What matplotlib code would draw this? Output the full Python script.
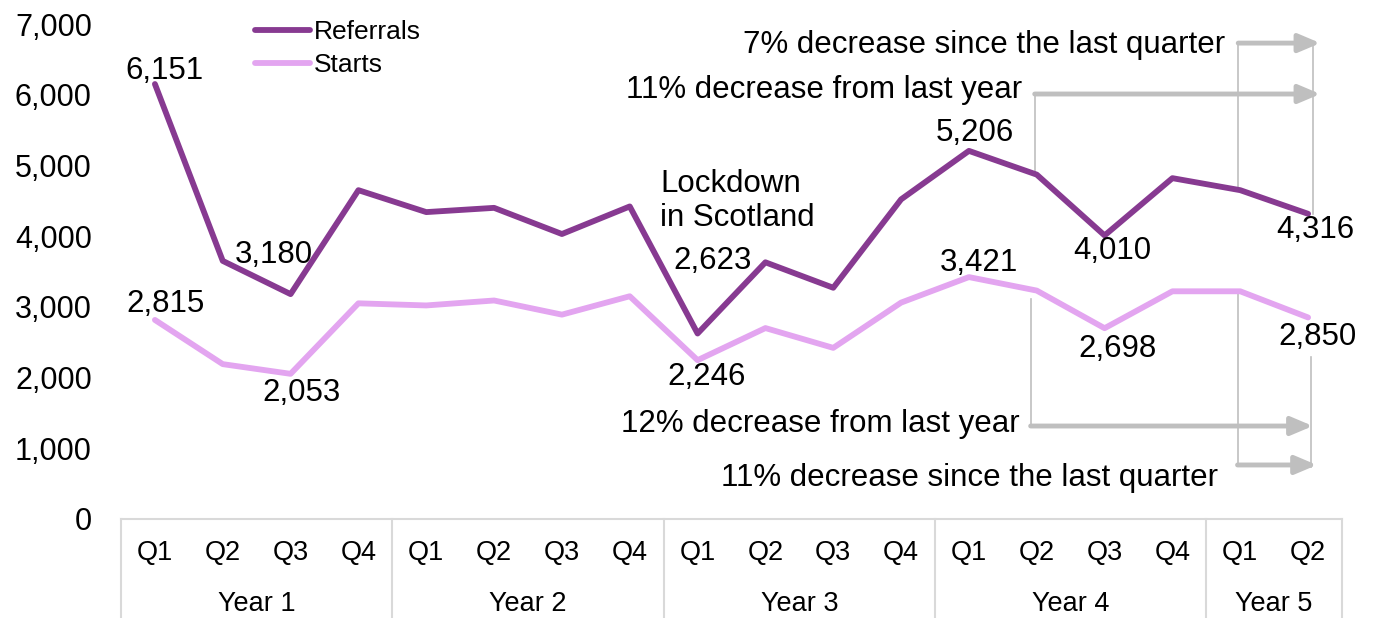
import matplotlib.pyplot as plt
from matplotlib.transforms import blended_transform_factory
import numpy as np

plt.rcParams['font.family'] = ['Liberation Sans', 'DejaVu Sans']

quarters = ['Q1', 'Q2', 'Q3', 'Q4'] * 4 + ['Q1', 'Q2']
years = ['Year 1', 'Year 2', 'Year 3', 'Year 4', 'Year 5']
year_lengths = [4, 4, 4, 4, 2]

referrals = [6151, 3650, 3180, 4650, 4340, 4400, 4030, 4420, 2623,
             3630, 3270, 4520, 5206, 4870, 4010, 4820, 4650, 4316]
starts = [2815, 2190, 2053, 3050, 3020, 3090, 2890, 3150, 2246,
          2700, 2420, 3060, 3421, 3230, 2698, 3220, 3220, 2850]

# which points get a value label, and where the label sits (pixels from the point)
ref_labels = {0: (10, 13), 2: (-17, 39), 8: (15, 73), 12: (6, 18), 14: (8, -16), 17: (7, -16)}
start_labels = {0: (11, 16), 2: (11, -19), 8: (9, -17), 12: (10, 14), 14: (13, -21), 17: (9, -20)}

c_ref = '#873A91'
c_start = '#E3A5F0'
c_grey = '#BFBFBF'
c_axis = '#D9D9D9'

fig = plt.figure(figsize=(13.75, 6.18), dpi=100)
ax = fig.add_axes([121/1375, 99/618, 1221/1375, 495/618])

x = np.arange(len(quarters))
ax.plot(x, referrals, color=c_ref, lw=4.2, solid_joinstyle='round', solid_capstyle='round', label='Referrals', zorder=3)
ax.plot(x, starts, color=c_start, lw=4.2, solid_joinstyle='round', solid_capstyle='round', label='Starts', zorder=3)

ax.set_xlim(-0.5, len(quarters) - 0.5)
ax.set_ylim(0, 7000)
ax.set_yticks(np.arange(0, 7001, 1000))
ax.set_yticklabels([f'{v:,}' for v in range(0, 7001, 1000)])
ax.tick_params(axis='y', length=0, pad=21, labelsize=22)
ax.set_xticks([])
for s in ['left', 'right', 'top']:
    ax.spines[s].set_visible(False)
ax.spines['bottom'].set_color(c_axis)
ax.spines['bottom'].set_linewidth(1.5)

# two-level category axis
trans = blended_transform_factory(ax.transData, ax.transAxes)
for i, q in enumerate(quarters):
    ax.text(i, -34/495, q, transform=trans, ha='center', va='center', fontsize=19.5)
edge = -0.5
for name, n in zip(years, year_lengths):
    ax.text(edge + n / 2, -85/495, name, transform=trans, ha='center', va='center', fontsize=19.5)
    ax.plot([edge, edge], [0, -0.25], transform=trans, color=c_axis, lw=1.5, clip_on=False)
    edge += n
ax.plot([edge, edge], [0, -0.25], transform=trans, color=c_axis, lw=1.5, clip_on=False)

# value labels
for i, (dx, dy) in ref_labels.items():
    ax.annotate(f'{referrals[i]:,}', (i, referrals[i]), xytext=(dx, dy), textcoords='offset pixels',
                ha='center', va='center', fontsize=22.5)
for i, (dx, dy) in start_labels.items():
    ax.annotate(f'{starts[i]:,}', (i, starts[i]), xytext=(dx, dy), textcoords='offset pixels',
                ha='center', va='center', fontsize=22.5)

ax.text(7.45, 4500, 'Lockdown\nin Scotland', ha='left', va='center', fontsize=22.5, linespacing=1.15)


def connector(xs, ys):
    ax.plot(xs, ys, color=c_grey, lw=1.2, clip_on=False, zorder=2)


def arrow(x0, x1, y):
    ax.annotate('', xy=(x1, y), xytext=(x0, y),
                arrowprops=dict(arrowstyle='-|>,head_length=1.3,head_width=0.55', color=c_grey,
                                lw=3.5, shrinkA=0, shrinkB=0, mutation_scale=10),
                annotation_clip=False, zorder=2)


# referrals: change on last quarter and last year
connector([15.97, 15.97], [referrals[16], 6730])
connector([17.07, 17.07], [referrals[17], 6730])
arrow(15.97, 17.18, 6730)
connector([12.97, 12.97], [referrals[13], 6010])
arrow(12.97, 17.18, 6010)
ax.text(15.78, 6702, '7% decrease since the last quarter', ha='right', va='center', fontsize=22.5)
ax.text(12.78, 6066, '11% decrease from last year', ha='right', va='center', fontsize=22.5)

# starts: change on last year and last quarter
connector([12.91, 12.91], [starts[13] - 120, 1315])
arrow(12.91, 17.07, 1315)
connector([17.05, 17.05], [2290, 735])
connector([15.96, 15.96], [starts[16], 764])
arrow(15.96, 17.13, 764)
ax.text(12.75, 1343, '12% decrease from last year', ha='right', va='center', fontsize=22.5)
ax.text(15.67, 580, '11% decrease since the last quarter', ha='right', va='center', fontsize=22.5)

fig.legend(loc='upper left', bbox_to_anchor=(255/1375, 1 - 20/618), frameon=False, fontsize=19,
           handlelength=2.1, handletextpad=0.12, labelspacing=0.35, borderpad=0, borderaxespad=0)

fig.savefig('out.png', dpi=100)
